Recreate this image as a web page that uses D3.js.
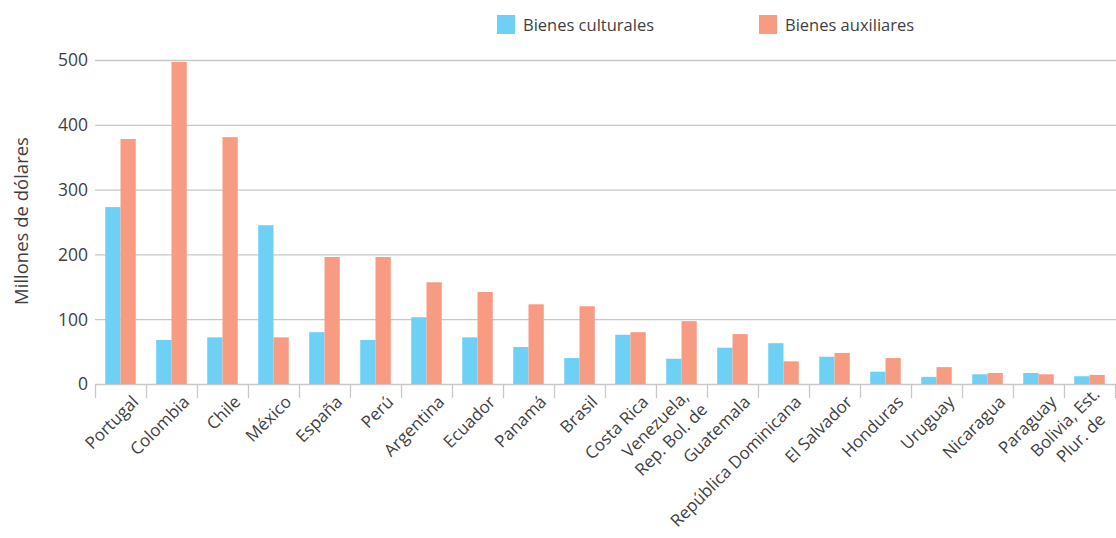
<!DOCTYPE html>
<html><head><meta charset="utf-8">
<script src="https://cdn.jsdelivr.net/npm/d3@7"></script>
<style>body{margin:0;background:#fff;} svg{display:block;font-family:"Open Sans",sans-serif;}</style>
</head><body>
<svg id="c" width="1116" height="538"></svg>
<script>
const categories = ["Portugal","Colombia","Chile","México","España","Perú","Argentina","Ecuador","Panamá","Brasil","Costa Rica","Venezuela,\nRep. Bol. de","Guatemala","República Dominicana","El Salvador","Honduras","Uruguay","Nicaragua","Paraguay","Bolivia, Est.\nPlur. de"];
const culturales = [273,68,72,245,80,68,103,72,57,40,76,39,56,63,42,19,11,15,17,12];
const auxiliares = [378,497,381,72,196,196,157,142,123,120,80,97,77,35,48,40,26,17,15,14];
const seriesNames = ["Bienes culturales","Bienes auxiliares"];
const colors = ["#6FD0F6","#F79C82"];
const yTicks = [0,100,200,300,400,500];
const yTitle = "Millones de dólares";

const svg = d3.select("#c");
const mLeft = 95, mRight = 1115, mTop = 60, mBottom = 384;
const x = d3.scaleBand().domain(d3.range(categories.length)).range([mLeft, mRight]).paddingInner(0).paddingOuter(0);
const xs = d3.scaleBand().domain([0,1]).range([0, x.bandwidth()]).paddingInner(0).paddingOuter(0.67);
const y = d3.scaleLinear().domain([0,500]).range([mBottom, mTop]);
const txt = "#3f3f3f";

// gridlines
svg.append("g").selectAll("line").data(yTicks).join("line")
  .attr("x1", mLeft).attr("x2", 1116).attr("y1", d=>y(d)+0.5).attr("y2", d=>y(d)+0.5)
  .attr("stroke", "#c8c8c8").attr("stroke-width", 1.3);

// y tick labels
svg.append("g").selectAll("text").data(yTicks).join("text")
  .attr("x", 88).attr("y", d=>y(d)).attr("dy","0.36em").attr("text-anchor","end")
  .attr("font-size", 17.5).attr("fill",txt).text(d=>d);

// y title
svg.append("text").attr("transform", `translate(28,${(mTop+mBottom)/2 - 1}) rotate(-90)`)
  .attr("text-anchor","middle").attr("font-size",18.5).attr("fill",txt).text(yTitle);

// bars
const data = categories.map((c,i)=>[culturales[i], auxiliares[i]]);
const g = svg.append("g");
data.forEach((vals,i)=>{
  g.selectAll(null).data(vals).join("rect")
    .attr("x", (d,j)=>x(i)+xs(j)).attr("width", xs.bandwidth())
    .attr("y", d=>y(d)).attr("height", d=>y(0)-y(d))
    .attr("fill", (d,j)=>colors[j]);
});

// x axis ticks
const bounds = d3.range(categories.length+1).map(i=> i<categories.length ? x(i) : mRight);
svg.append("g").selectAll("line").data(bounds).join("line")
  .attr("x1", d=>Math.round(d)+0.5).attr("x2", d=>Math.round(d)+0.5).attr("y1", mBottom).attr("y2", mBottom+14)
  .attr("stroke","#c8c8c8").attr("stroke-width",1.3);

// x labels
const lh = 22;
categories.forEach((c,i)=>{
  const lines = c.split("\n");
  const cx = x(i) + x.bandwidth()/2;
  const lg = svg.append("g").attr("transform", `translate(${cx+10},${mBottom+10}) rotate(-45)`);
  const texts = lines.map((ln,k)=> lg.append("text")
      .attr("text-anchor","end").attr("font-size",17).attr("fill",txt)
      .attr("y", (k-(lines.length-1)/2)*lh).attr("dy","0.75em").text(ln));
  if (lines.length>1) {
    const lens = texts.map(t=>t.node().getComputedTextLength());
    const mx = d3.max(lens);
    texts.forEach((t,k)=> t.attr("x", (lens[k]-mx)/2));
  }
});

// legend
const legX = [497, 759];
seriesNames.forEach((s,i)=>{
  svg.append("rect").attr("x", legX[i]).attr("y", 15).attr("width", 18).attr("height", 19).attr("fill", colors[i]);
  svg.append("text").attr("x", legX[i]+26).attr("y", 31).attr("font-size",16.5).attr("fill",txt).text(s);
});
</script>
</body></html>
